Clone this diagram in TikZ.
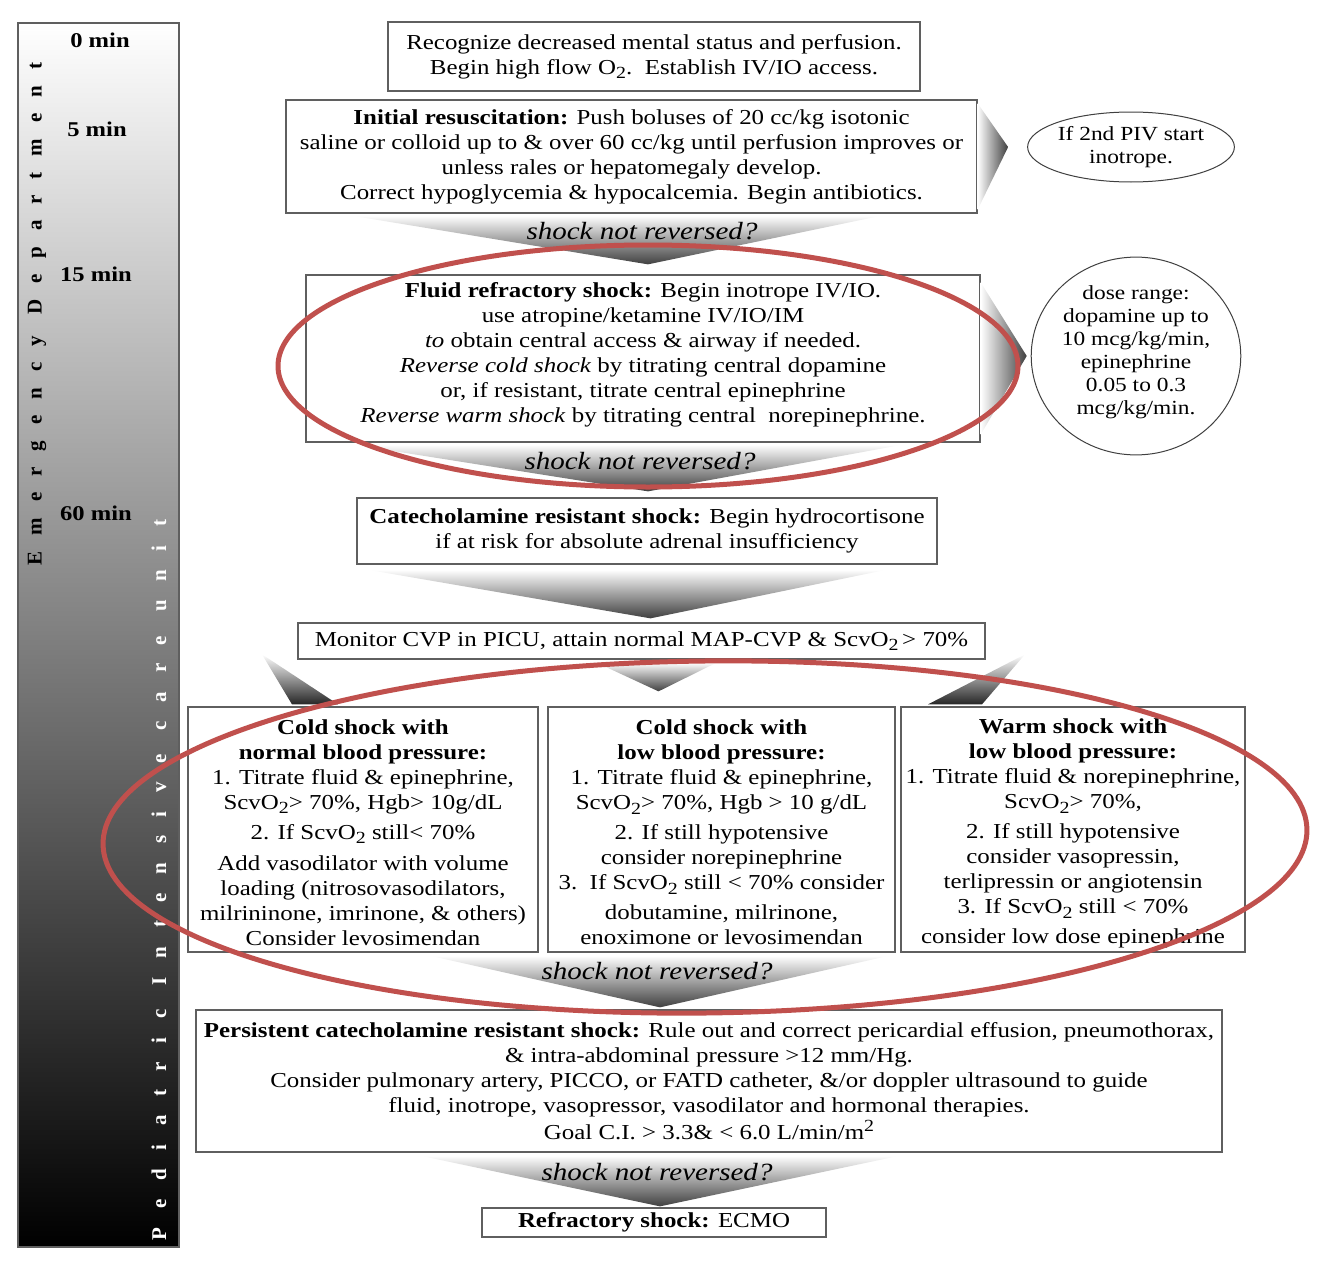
\documentclass[tikz,border=0pt]{standalone}
\usepackage{fontspec}
\setmainfont{Liberation Serif}[FakeStretch=1.17]
\newfontfamily\barfont{Liberation Serif}[LetterSpace=76]
\newfontfamily\barfontwide{Liberation Serif}[LetterSpace=89]
\usetikzlibrary{calc,shapes.geometric}
\definecolor{redc}{RGB}{192,80,77}
\definecolor{boxc}{RGB}{95,95,95}
\newcommand\subtwo{\raisebox{-0.45ex}{\fontsize{17}{17}\selectfont 2}}
\begin{document}
\begin{tikzpicture}[x=1pt,y=-1pt,
  box/.style={draw=boxc, line width=1.3pt, fill=white, align=center, inner sep=0pt, font=\fontsize{21.3}{25}\selectfont},
  bubble/.style={ellipse, draw=black!75, line width=1pt, fill=white, align=center, inner sep=0pt, font=\fontsize{20}{23}\selectfont},
  question/.style={font=\fontsize{24.8}{24.8}\selectfont\itshape, inner sep=0pt},
  darrow/.style={top color=white, bottom color=black!75},
  rarrow/.style={left color=white, right color=black!75},
  timelbl/.style={font=\fontsize{21}{21}\selectfont\bfseries, inner sep=0pt},
  ring/.style={draw=redc, line width=5pt}
]
\useasboundingbox (0,0) rectangle (1318,1266);

% time bar
\node[draw=boxc, line width=1.3pt, minimum width=161, minimum height=1224, top color=white, bottom color=black, inner sep=0pt] (bar) at (98.5,635) {};
\node[timelbl] (t0) at (100,40) {0 min};
\node[timelbl] (t5) at (97,129) {5 min};
\node[timelbl] (t15) at (96,274) {15 min};
\node[timelbl] (t60) at (96,513) {60 min};
\node[rotate=90, inner sep=0pt, font=\barfont\fontsize{21}{21}\selectfont\bfseries] (ed) at (37,314) {Emergency Department};
\node[rotate=90, inner sep=0pt, text=white, font=\barfontwide\fontsize{21}{21}\selectfont\bfseries] (picu) at (159,880) {Pediatric Intensive care unit};

% box positions
\path
  (654,56.5) coordinate (pb1)
  (631.5,156.5) coordinate (pb2)
  (643,358.5) coordinate (pb3)
  (647,531) coordinate (pb4)
  (641.5,641) coordinate (pb5)
  (363,829.5) coordinate (pc1)
  (721.5,829.5) coordinate (pc2)
  (1073,829.5) coordinate (pc3)
  (709,1081) coordinate (pb6)
  (654,1222.5) coordinate (pb7);

\node[box, minimum width=532, minimum height=69] (b1) at (pb1)
  {Recognize decreased mental status and perfusion.\\ Begin high flow O\subtwo.\ \ Establish IV/IO access.};
\node[box, minimum width=691, minimum height=113] (b2) at (pb2)
  {\textbf{Initial resuscitation:} Push boluses of 20 cc/kg isotonic\\
   saline or colloid up to \& over 60 cc/kg until perfusion improves or\\
   unless rales or hepatomegaly develop.\\
   Correct hypoglycemia \& hypocalcemia. Begin antibiotics.};
\node[box, minimum width=674, minimum height=167] (b3) at (pb3)
  {\textbf{Fluid refractory shock:} Begin inotrope IV/IO.\\
   use atropine/ketamine IV/IO/IM\\
   \textit{to} obtain central access \& airway if needed.\\
   \textit{Reverse cold shock} by titrating central dopamine\\
   or, if resistant, titrate central epinephrine\\
   \textit{Reverse warm shock} by titrating central\ \ norepinephrine.\\[-13pt]};
\node[box, minimum width=580, minimum height=66] (b4) at (pb4)
  {\textbf{Catecholamine resistant shock:} Begin hydrocortisone\\
   if at risk for absolute adrenal insufficiency};
\node[box, minimum width=687, minimum height=36] (b5) at (pb5)
  {Monitor CVP in PICU, attain normal MAP-CVP \& ScvO\subtwo\,> 70\%};
\node[box, minimum width=350, minimum height=245] (c1) at (pc1)
  {\mbox{}\\[-4pt]
   \textbf{Cold shock with}\\
   \textbf{normal blood pressure:}\\
   1. Titrate fluid \& epinephrine,\\
   ScvO\subtwo> 70\%, Hgb> 10g/dL\\[5pt]
   2. If ScvO\subtwo\ still< 70\%\\[6pt]
   Add vasodilator with volume\\
   loading (nitrosovasodilators,\\
   milrininone, imrinone, \& others)\\
   Consider levosimendan};
\node[box, minimum width=347, minimum height=245] (c2) at (pc2)
  {\mbox{}\\[-4pt]
   \textbf{Cold shock with}\\
   \textbf{low blood pressure:}\\
   1. Titrate fluid \& epinephrine,\\
   ScvO\subtwo> 70\%, Hgb > 10 g/dL\\[5pt]
   2. If still hypotensive\\
   consider norepinephrine\\
   3.\ \ If ScvO\subtwo\ still < 70\% consider\\[5pt]
   dobutamine, milrinone,\\
   enoximone or levosimendan};
\node[box, minimum width=344, minimum height=245] (c3) at (pc3)
  {\mbox{}\\[-2pt]
   \textbf{Warm shock with}\\
   \textbf{low blood pressure:}\\
   1. Titrate fluid \& norepinephrine,\\
   ScvO\subtwo> 70\%,\\[5pt]
   2. If still hypotensive\\
   consider vasopressin,\\
   terlipressin or angiotensin\\
   3. If ScvO\subtwo\ still < 70\%\\[5pt]
   consider low dose epinephrine};
\node[box, minimum width=1026, minimum height=142] (b6) at (pb6)
  {\textbf{Persistent catecholamine resistant shock:} Rule out and correct pericardial effusion, pneumothorax,\\
   \& intra-abdominal pressure >12 mm/Hg.\\
   Consider pulmonary artery, PICCO, or FATD catheter, \&/or doppler ultrasound to guide\\
   fluid, inotrope, vasopressor, vasodilator and hormonal therapies.\\[2pt]
   Goal C.I. > 3.3\& < 6.0 L/min/m\raisebox{0.8ex}{\fontsize{17}{17}\selectfont 2}};
\node[box, minimum width=344, minimum height=29] (b7) at (pb7)
  {\textbf{Refractory shock:} ECMO};
\node[bubble, minimum width=198, minimum height=70] (e1) at (1131,147)
  {If 2nd PIV start\\ inotrope.};
\node[bubble, minimum width=208, minimum height=152] (e2) at (1136,356)
  {dose range:\\ dopamine up to\\ 10 mcg/kg/min,\\ epinephrine\\ 0.05 to 0.3\\ mcg/kg/min.\\[-12pt]};

% shaded arrows between the boxes
\shade[darrow] ($(b2.south)+(-280,2)$) -- ($(b2.south)+(250,2)$) -- ($(b3.north)+(5,-10)$) -- cycle;
\shade[darrow] ($(b3.south)+(-290,2)$) -- ($(b3.south)+(260,2)$) -- ($(b4.north)+(1,-6)$) -- cycle;
\shade[darrow] ($(b4.south)+(-280,5)$) -- ($(b4.south)+(240,5)$) -- ($(b5.north)+(9,-4)$) -- cycle;
\shade[darrow] ($(b5.south)+(-45,3)$) -- ($(b5.south)+(75,3)$) -- ($(c2.north)+(-63,-15)$) -- cycle;
\shade[top color=white, bottom color=black!85] ($(c1.north)+(-101,-52)$) -- ($(c1.north)+(-25,-2)$) -- ($(c1.north)+(-71,-2)$) -- cycle;
\shade[top color=white, bottom color=black!85] ($(c3.north)+(-48,-52)$) -- ($(c3.north)+(-91,-2)$) -- ($(c3.north)+(-145,-2)$) -- cycle;
\shade[darrow] ($(c2.south)+(-292,3)$) -- ($(c2.south)+(168,3)$) -- ($(b6.north)+(-49,-2)$) -- cycle;
\shade[darrow] ($(b6.south)+(-289,3)$) -- ($(b6.south)+(191,3)$) -- ($(b7.north)+(6,-1)$) -- cycle;
\shade[rarrow] ($(b2.north east)+(0,4)$) -- ($(e1.west)+(-19,0)$) -- ($(b2.south east)+(0,-4)$) -- cycle;
\shade[rarrow] ($(b3.north east)+(0,8)$) -- ($(e2.west)+(-4,0)$) -- ($(b3.south east)+(0,-8)$) -- cycle;

\node[question] (q1) at (642,231) {shock not reversed?};
\node[question] (q2) at (640,461) {shock not reversed?};
\node[question] (q3) at (657,971) {shock not reversed?};
\node[question] (q4) at (657,1172) {shock not reversed?};

% red annotation rings
\draw[ring] (648,366) ellipse [x radius=370, y radius=121];
\draw[ring, rotate around={0.7:(705,837)}] (705,837) ellipse [x radius=602, y radius=176];
\end{tikzpicture}
\end{document}
